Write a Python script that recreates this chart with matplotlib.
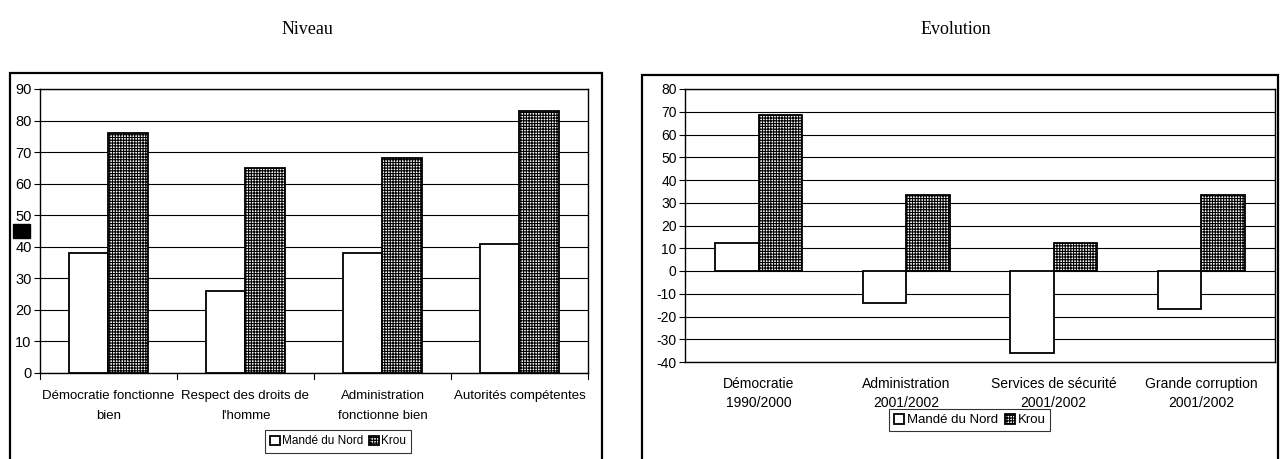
import numpy as np
import matplotlib
matplotlib.use("Agg")
import matplotlib.pyplot as plt
from matplotlib.patches import Rectangle

# --- data ---
niveau_labels = ["Démocratie fonctionne\nbien", "Respect des droits de\nl'homme",
                 "Administration\nfonctionne bien", "Autorités compétentes"]
niveau_mande = [38, 26, 38, 41]
niveau_krou = [76, 65, 68, 83]

evol_labels = ["Démocratie\n1990/2000", "Administration\n2001/2002",
               "Services de sécurité\n2001/2002", "Grande corruption\n2001/2002"]
evol_mande = [12.5, -14, -36, -16.5]
evol_krou = [68.5, 33.5, 12.5, 33.5]

series_names = ["Mandé du Nord", "Krou"]

W, H = 1281, 459
plt.rcParams['font.family'] = ['Liberation Sans', 'DejaVu Sans']
plt.rcParams['hatch.linewidth'] = 0.8
plt.rcParams['axes.unicode_minus'] = False

fig = plt.figure(figsize=(W / 100, H / 100), dpi=100)
fig.patch.set_facecolor("white")


def px_axes(x0, y0, x1, y1):
    # pixel box (top-left origin) -> figure axes
    return fig.add_axes([x0 / W, 1 - y1 / H, (x1 - x0) / W, (y1 - y0) / H])


def frame(x0, y0, x1, y1):
    fig.patches.append(Rectangle((x0 / W, 1 - y1 / H), (x1 - x0) / W, (y1 - y0) / H,
                                 transform=fig.transFigure, fill=False,
                                 edgecolor="black", linewidth=1.6))


def draw(ax, labels, mande, krou, ylim, step, bw, yfs, xfs, pad, lsp, tickmarks):
    x = np.arange(len(labels))
    ax.set_axisbelow(True)
    ax.yaxis.grid(True, color="black", linewidth=0.8)
    ax.bar(x - bw / 2, mande, bw, color="white", edgecolor="black", linewidth=1.3,
           label=series_names[0])
    ax.bar(x + bw / 2, krou, bw, color="white", edgecolor="black", linewidth=1.3,
           hatch="++++++", label=series_names[1])
    ax.set_xlim(-0.5, len(labels) - 0.5)
    ax.set_ylim(*ylim)
    ax.set_yticks(np.arange(ylim[0], ylim[1] + 1, step))
    ax.tick_params(axis="y", length=4, width=0.8, labelsize=yfs, pad=2)
    ax.set_xticks(x)
    ax.set_xticklabels(labels, fontsize=xfs, linespacing=lsp)
    ax.tick_params(axis="x", length=0, pad=pad)
    if tickmarks:
        for b in np.arange(-0.5, len(labels), 1.0):
            ax.plot([b, b], [0, -0.02 * (ylim[1] - ylim[0])], color="black",
                    linewidth=0.8, clip_on=False)
    for s in ax.spines.values():
        s.set_linewidth(1.0)
        s.set_color("black")


# left panel
frame(10, 73, 602, 470)
ax1 = px_axes(40, 89, 588, 373)
draw(ax1, niveau_labels, niveau_mande, niveau_krou, (0, 90), 10, 0.29,
     10.5, 9.5, 12, 1.9, True)
fig.text(307 / W, 1 - 30 / H, "Niveau", ha="center", va="center",
         fontsize=13, family="Liberation Serif")
leg1 = ax1.legend(loc="upper left", bbox_to_anchor=((265 - 40) / 548, -57 / 284),
                  ncol=2, fontsize=8.5, frameon=True, fancybox=False,
                  handlelength=0.8, handleheight=0.8, handletextpad=0.2,
                  columnspacing=0.5, borderpad=0.45, borderaxespad=0)
leg1.get_frame().set_edgecolor("black")
leg1.get_frame().set_linewidth(0.8)

# black marker artefact near y labels
fig.patches.append(Rectangle((13 / W, 1 - 238 / H), 17 / W, 14 / H,
                             transform=fig.transFigure, color="black"))

# right panel
frame(642, 75, 1278, 470)
ax2 = px_axes(685, 89, 1275, 362)
draw(ax2, evol_labels, evol_mande, evol_krou, (-40, 80), 10, 0.295,
     10, 10, 11, 1.45, False)
fig.text(956 / W, 1 - 30 / H, "Evolution", ha="center", va="center",
         fontsize=13, family="Liberation Serif")
leg2 = ax2.legend(loc="upper left", bbox_to_anchor=((889 - 685) / 590, -47 / 273),
                  ncol=2, fontsize=9.5, frameon=True, fancybox=False,
                  handlelength=0.8, handleheight=0.8, handletextpad=0.2,
                  columnspacing=0.5, borderpad=0.35, borderaxespad=0)
leg2.get_frame().set_edgecolor("black")
leg2.get_frame().set_linewidth(0.8)

fig.savefig("out.png", dpi=100, facecolor="white")
